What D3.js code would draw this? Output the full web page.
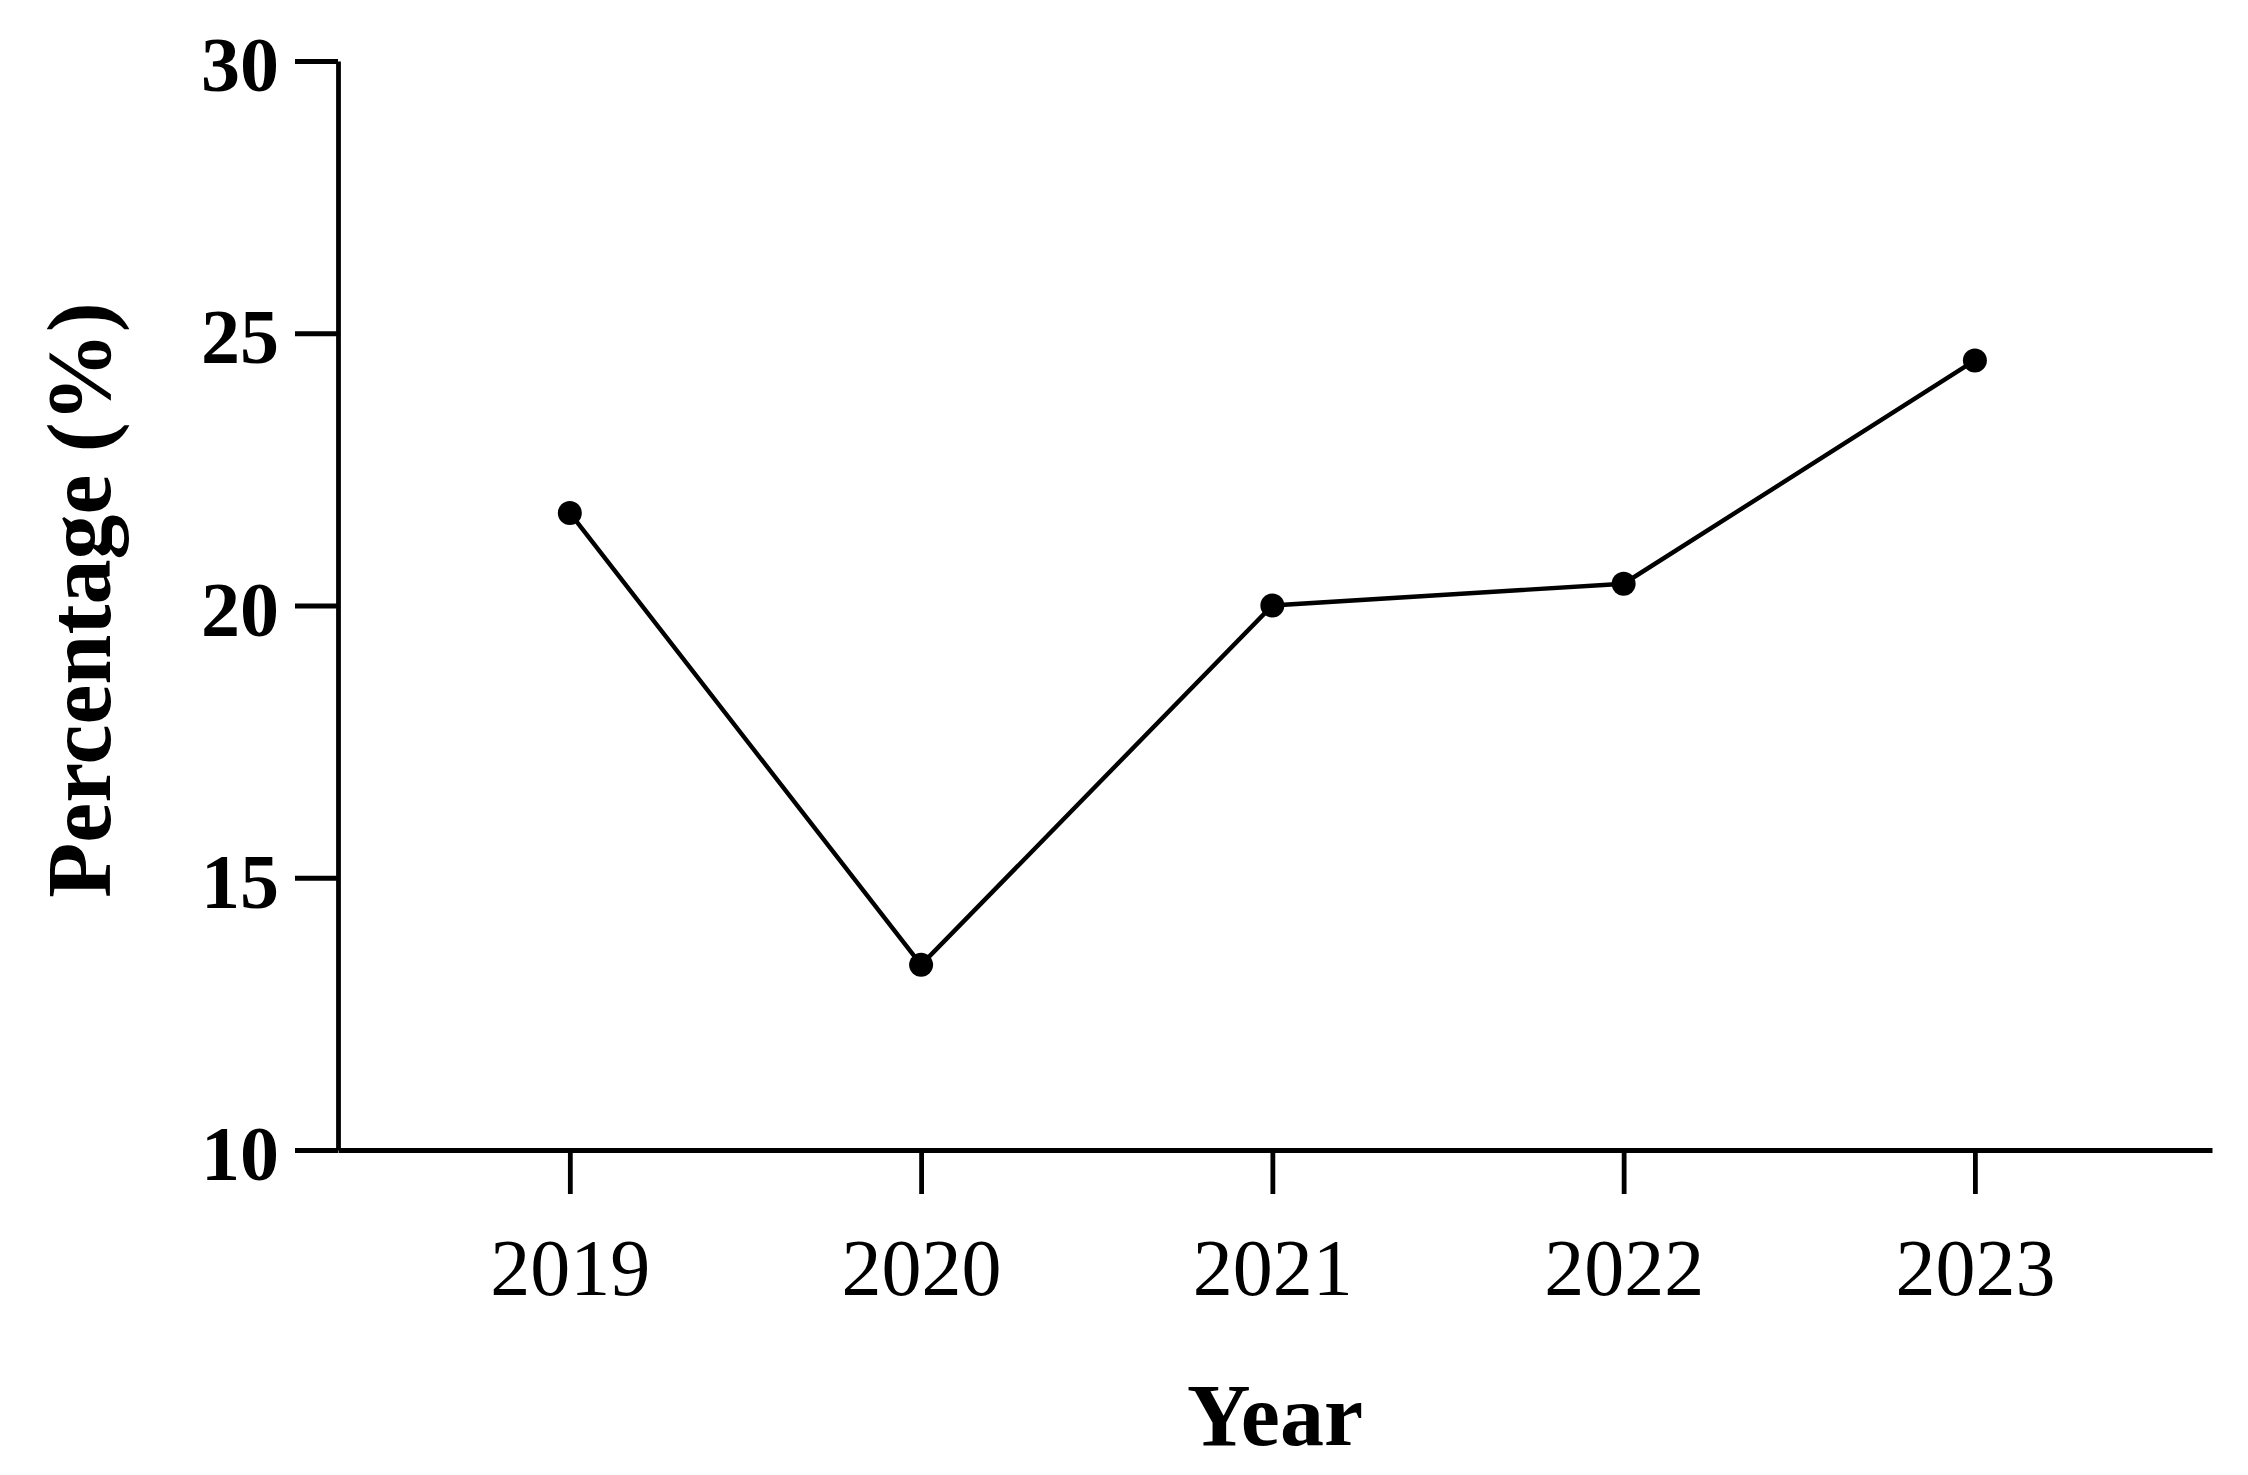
<!DOCTYPE html>
<meta charset="utf-8">
<html>
  <head>
    <title>Percentage by Year</title>
    <style>
      body {
        margin: 0;
        background: #fff;
        font-family: "Liberation Serif", serif;
      }
    </style>
  </head>
  <body>
    <div id="linechart"></div>
    <script src="https://d3js.org/d3.v7.min.js"></script>
    <script>

      // data
      const years = [2019, 2020, 2021, 2022, 2023];
      const percentage = [21.7, 13.4, 20.0, 20.4, 24.5];
      const yTicks = [10, 15, 20, 25, 30];

      // set the dimensions and margins of the graph
      const margin = {top: 61, right: 36, bottom: 325, left: 338},
          width = 2248 - margin.left - margin.right,
          height = 1475 - margin.top - margin.bottom;

      const svg = d3.select("#linechart")
        .append("svg")
          .attr("width", width + margin.left + margin.right)
          .attr("height", height + margin.top + margin.bottom)
        .append("g")
          .attr("transform", `translate(${margin.left}, ${margin.top})`);

      // x scale, years sit inside the axis with some room on both ends
      const xScale = d3.scaleLinear()
        .domain([2018.34, 2023.675])
        .range([0, width]);

      const yScale = d3.scaleLinear()
        .domain([10, 30])
        .range([height, 0]);

      // X axis
      const xAxis = svg.append("g")
        .attr("transform", `translate(0, ${height})`)
        .call(d3.axisBottom(xScale)
          .tickValues(years)
          .tickFormat(d3.format("d"))
          .tickSize(44)
          .tickSizeOuter(0));

      xAxis.selectAll("text")
        .attr("y", 145)
        .attr("dy", 0)
        .style("font-family", "Liberation Serif, serif")
        .style("font-size", "80px")
        .style("fill", "#000");

      // Y axis
      const yAxis = svg.append("g")
        .call(d3.axisLeft(yScale)
          .tickValues(yTicks)
          .tickSize(43)
          .tickPadding(16)
          .tickSizeOuter(0));

      yAxis.selectAll("text")
        .attr("dy", "0.38em")
        .style("font-family", "Liberation Serif, serif")
        .style("font-size", "78px")
        .style("font-weight", "bold")
        .style("fill", "#000");

      svg.selectAll(".domain, .tick line")
        .attr("stroke", "#000")
        .attr("stroke-width", 4.8);

      // line
      const data = years.map((y, i) => ({year: y, value: percentage[i]}));

      svg.append("path")
        .datum(data)
        .attr("fill", "none")
        .attr("stroke", "#000")
        .attr("stroke-width", 4.4)
        .attr("d", d3.line()
          .x(d => xScale(d.year))
          .y(d => yScale(d.value)));

      // dots
      svg.selectAll("circle")
        .data(data)
        .join("circle")
          .attr("cx", d => xScale(d.year))
          .attr("cy", d => yScale(d.value))
          .attr("r", 12)
          .attr("fill", "#000");

      // axis titles
      svg.append("text")
        .attr("x", width / 2)
        .attr("y", height + 295)
        .attr("text-anchor", "middle")
        .style("font-size", "88px")
        .style("font-weight", "bold")
        .text("Year");

      svg.append("text")
        .attr("transform", `translate(${110 - margin.left}, ${600 - margin.top}) rotate(-90)`)
        .attr("text-anchor", "middle")
        .style("font-size", "90px")
        .style("font-weight", "bold")
        .text("Percentage (%)");

    </script>
  </body>
</html>
